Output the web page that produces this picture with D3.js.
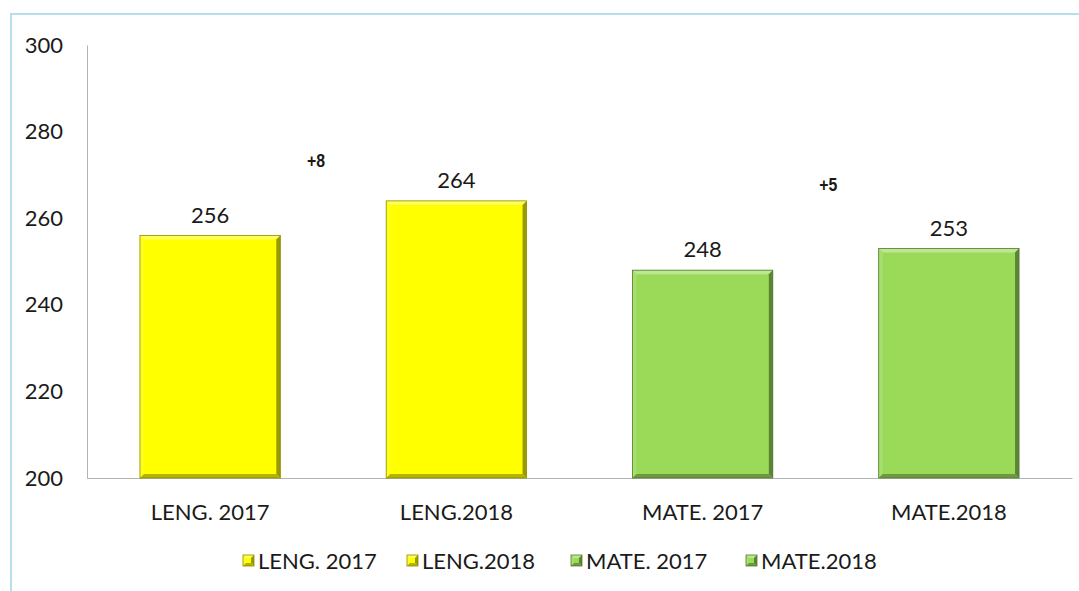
<!DOCTYPE html>
<html>
<head>
<meta charset="utf-8">
<script src="https://cdn.jsdelivr.net/npm/d3@7"></script>
<style>
  body { margin: 0; background: #fff; }
  text { font-family: Lato, "Open Sans", sans-serif; fill: #1a1a1a; }
</style>
</head>
<body>
<div id="chart"></div>
<script>
// chart data
const categories = ['LENG. 2017', 'LENG.2018', 'MATE. 2017', 'MATE.2018'];
const values = [256, 264, 248, 253];
const barColors = ['#ffff00', '#ffff00', '#9bda59', '#9bda59'];
const yTicks = [200, 220, 240, 260, 280, 300];
// difference notes: text, position between categories (index), height in value units
const diffText = ['+8', '+5'];
const diffPos = [0.43, 2.51];
const diffVal = [273.4, 267.9];

const W = 1079, H = 591;
const margin = {top: 45, right: 7, bottom: 113, left: 87};
const width = W - margin.left - margin.right;
const height = H - margin.top - margin.bottom;

const root = d3.select('#chart').append('svg')
    .attr('width', W)
    .attr('height', H);

// light blue frame
root.append('rect')
    .attr('x', 11).attr('y', 14)
    .attr('width', W + 20).attr('height', H + 20)
    .attr('fill', 'none')
    .attr('stroke', '#b7dfe9')
    .attr('stroke-width', 2);

const svg = root.append('g')
    .attr('transform', `translate(${margin.left}, ${margin.top})`);

const xScale = d3.scaleBand()
    .domain(categories)
    .range([0, width])
    .paddingInner(0.43)
    .paddingOuter(0.215);

const yScale = d3.scaleLinear()
    .domain([200, 300])
    .range([height, 0]);

// y axis
const yAxis = svg.append('g')
    .call(d3.axisLeft(yScale).tickValues(yTicks).tickSize(0).tickPadding(24));
yAxis.select('.domain').attr('stroke', '#b3b3b3');
yAxis.selectAll('text').style('font-size', '22px').style('font-family', 'Lato');

// x axis
const xAxis = svg.append('g')
    .attr('transform', `translate(0, ${height})`)
    .call(d3.axisBottom(xScale).tickSize(0).tickPadding(26));
xAxis.select('.domain').attr('stroke', '#b3b3b3');
xAxis.selectAll('text').style('font-size', '22px').style('font-family', 'Lato');

function shade(c, k) {
    return k > 0 ? d3.interpolateRgb(c, '#ffffff')(k) : d3.interpolateRgb(c, '#000000')(-k);
}

// bevelled bars
function bevel(g, x, y, w, h, color, b) {
    g.append('rect').attr('x', x).attr('y', y).attr('width', w).attr('height', h).attr('fill', color);
    const pts = (a) => a.map(p => p.join(',')).join(' ');
    g.append('polygon').attr('points', pts([[x, y], [x + w, y], [x + w - b, y + b], [x + b, y + b]]))
        .attr('fill', shade(color, 0.35));
    g.append('polygon').attr('points', pts([[x, y], [x + b, y + b], [x + b, y + h - b], [x, y + h]]))
        .attr('fill', shade(color, 0.12));
    g.append('polygon').attr('points', pts([[x + w, y], [x + w, y + h], [x + w - b, y + h - b], [x + w - b, y + b]]))
        .attr('fill', shade(color, -0.4));
    g.append('polygon').attr('points', pts([[x, y + h], [x + w, y + h], [x + w - b, y + h - b], [x + b, y + h - b]]))
        .attr('fill', shade(color, -0.3));
    g.append('rect').attr('x', x).attr('y', y).attr('width', w).attr('height', h)
        .attr('fill', 'none').attr('stroke', shade(color, -0.45)).attr('stroke-width', 0.8);
}

const bars = svg.append('g');
categories.forEach((c, i) => {
    const x = xScale(c), y = yScale(values[i]);
    bevel(bars, x, y, xScale.bandwidth(), height - y, barColors[i], 4);
});

// value labels
svg.selectAll('.val')
    .data(values)
    .enter()
    .append('text')
    .attr('class', 'val')
    .attr('x', (d, i) => xScale(categories[i]) + xScale.bandwidth() / 2)
    .attr('y', d => yScale(d) - 13)
    .attr('text-anchor', 'middle')
    .style('font-size', '22px')
    .text(d => d);

// difference notes
const step = xScale.step();
svg.selectAll('.diff')
    .data(diffText)
    .enter()
    .append('text')
    .attr('class', 'diff')
    .attr('x', (d, i) => xScale(categories[0]) + xScale.bandwidth() / 2 + diffPos[i] * step)
    .attr('y', (d, i) => yScale(diffVal[i]) + 7)
    .attr('text-anchor', 'middle')
    .style('font-family', 'Liberation Sans, Arial, sans-serif')
    .style('font-weight', 'bold')
    .style('font-size', '18px')
    .attr('transform', (d, i) => {
        const x = xScale(categories[0]) + xScale.bandwidth() / 2 + diffPos[i] * step;
        return `translate(${x}, 0) scale(0.88, 1) translate(${-x}, 0)`;
    })
    .text(d => d);

// legend
const legendX = [243, 407, 571, 746];
const legend = root.append('g');
categories.forEach((c, i) => {
    const lg = legend.append('g').attr('transform', `translate(${legendX[i]}, 555)`);
    bevel(lg, 0, 0, 11, 11, barColors[i], 3);
    lg.append('text')
        .attr('x', 15)
        .attr('y', 14)
        .style('font-size', '22px')
        .text(c);
});
</script>
</body>
</html>
